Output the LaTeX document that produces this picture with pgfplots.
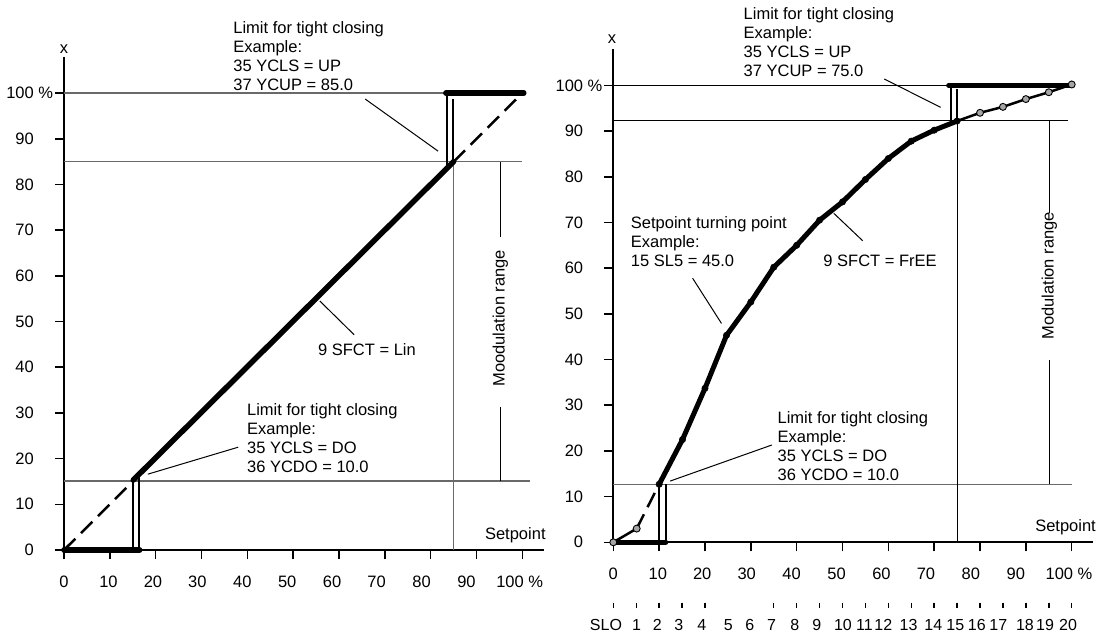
\documentclass[border=0pt]{standalone}
\usepackage{fontspec}
\setmainfont{Liberation Sans}
\usepackage{pgfplots}
\pgfplotsset{compat=1.18}
\newcommand\myfont{\fontsize{16.5bp}{19bp}\selectfont}
\newcommand\slofont{\fontsize{16bp}{19bp}\selectfont}
\definecolor{refgray}{RGB}{105,105,105}
\definecolor{markgray}{RGB}{165,165,165}
\tikzset{
 thinl/.style={black, line width=1bp},
 refl/.style={refgray, line width=1.3bp},
 thickl/.style={black, line width=5.5bp, line cap=round},
 dbl/.style={black, line width=2bp},
 dsh/.style={black, line width=2.5bp, dash pattern=on 16bp off 8bp},
 txt/.style={font=\myfont, inner sep=0pt, align=left},
 slo/.style={font=\slofont, inner sep=0pt},
}
\pgfplotsset{
 myaxis/.style={
  scale only axis, width=479.5bp, height=493bp,
  xmin=0, xmax=104.6, ymin=0, ymax=107.9,
  axis lines=left, axis line style={-, line width=2bp, black},
  tick align=outside, major tick length=9bp,
  tick style={black, line width=1.5bp},
  xtick={0,10,...,100}, xticklabels={},
  extra x ticks={0,9.7,19.4,29.1,38.9,48.7,58.5,68.2,78,87.8,99.4},
  extra x tick labels={0,10,20,30,40,50,60,70,80,90,100 \%},
  extra x tick style={major tick length=0pt, tick style={draw=none},
     xticklabel style={anchor=base, inner sep=0pt, yshift=-37bp}},
  ytick={0,10,...,100},
  yticklabels={0,10,20,30,40,50,60,70,80,90,100\rlap{ \%}},
  yticklabel style={anchor=east, inner sep=0pt, xshift=-21bp},
  tick label style={font=\myfont},
  clip=false,
 },
}
\begin{document}
\begin{tikzpicture}
\useasboundingbox (0,0) rectangle (1106bp,634bp);
% ---------------- left chart ----------------
\begin{axis}[myaxis, at={(64bp,84bp)}, anchor=south west]
\addplot[refl] coordinates {(0,100) (100,100)};
\addplot[refl] coordinates {(0,85) (100,85)};
\addplot[refl] coordinates {(0,15.1) (101.7,15.1)};
\addplot[refl] coordinates {(84.9,0) (84.9,85)};
\addplot[thinl] coordinates {(95.2,84.9) (95.2,68.5)};
\addplot[thinl] coordinates {(95.2,31.3) (95.2,15.1)};
\addplot[dsh] coordinates {(0,0) (15.2,15.2)};
\addplot[dsh] coordinates {(85,85) (100,100)};
\addplot[thickl] coordinates {(15.1,15.3) (85,85)};
\addplot[thickl] coordinates {(0,0) (16.5,0)};
\addplot[thickl] coordinates {(83.3,100) (100.3,100)};
\addplot[dbl] coordinates {(15.1,0) (15.1,15.5)};
\addplot[dbl] coordinates {(16.4,0) (16.4,16.2)};
\addplot[dbl] coordinates {(83.5,84) (83.5,100)};
\addplot[dbl] coordinates {(84.9,85) (84.9,98.6)};
\draw[thinl] (65.7,98.7) -- (81.6,87.3);
\draw[thinl] (55.8,54.5) -- (63.3,47.1);
\draw[thinl] (38.0,22.5) -- (18.3,16.6);
\node[txt, anchor=north west] at (36.9,115.8) {Limit for tight closing\\Example:\\35 YCLS = UP\\37 YCUP = 85.0};
\node[txt, anchor=north west] at (55.4,45.2) {9 SFCT = Lin};
\node[txt, anchor=north west] at (39.9,32.1) {Limit for tight closing\\Example:\\35 YCLS = DO\\36 YCDO = 10.0};
\node[txt, anchor=base east] at (105.1,2.3) {Setpoint};
\node[txt, anchor=base] at (0,108.6) {x};
\node[txt, rotate=90, anchor=center] at (95.2,50.7) {Moodulation range};
\end{axis}
% ---------------- right chart ----------------
\begin{axis}[myaxis, at={(613.3bp,91.7bp)}, anchor=south west]
\addplot[thinl, line width=1.2bp] coordinates {(0,100) (75,100)};
\addplot[thinl, line width=1.2bp] coordinates {(0,92.3) (99.2,92.3)};
\addplot[refl] coordinates {(0,12.7) (100,12.7)};
\addplot[thinl, line width=1.2bp] coordinates {(75,0) (75,92.3)};
\addplot[thinl] coordinates {(95.1,92.3) (95.1,72.0)};
\addplot[thinl] coordinates {(95.1,39.9) (95.1,12.7)};
\addplot[black, line width=2.5bp] coordinates {(0,0) (5.1,3.0)};
\addplot[dsh] coordinates {(5.1,3.0) (10,12.7)};
\addplot[black, line width=2.5bp] coordinates {(75,92.2) (80,94) (85,95.3) (90,97) (95,98.5) (100,100.2)};
\addplot[thickl] coordinates {(0,0) (11.4,0)};
\addplot[thickl] coordinates {(73.2,100) (100,100)};
\addplot[dbl] coordinates {(10,0) (10,12.7)};
\addplot[dbl] coordinates {(11.4,0) (11.4,12.7)};
\addplot[dbl] coordinates {(73.7,92.2) (73.7,100)};
\addplot[dbl] coordinates {(75,92.2) (75,99.3)};
\addplot[black, line width=5bp, line join=round, mark=*, mark size=3.2bp,
  mark options={solid, fill=black, line width=0.5bp}] coordinates {
  (10,12.7) (15.1,22.5) (20,33.7) (24.7,45.3) (30,52.6) (35,60.2) (40,65)
  (45,70.5) (50,74.5) (55,79.4) (60,84) (65,87.8) (70,90.2) (75,92.2)};
\addplot[only marks, mark=*, mark size=3.5bp,
  mark options={fill=markgray, draw=black, line width=0.9bp}] coordinates {
  (0,0) (5.1,3.0) (80,94) (85,95.3) (90,97) (95,98.5) (100,100.2)};
\draw[thinl] (59.1,101.4) -- (71.4,95.2);
\draw[thinl] (17.3,57.8) -- (23.6,47.9);
\draw[thinl] (48.1,72.0) -- (54.4,66.0);
\draw[thinl] (34.6,21.3) -- (12.4,13.4);
\node[txt, anchor=north west] at (28.4,117.0) {Limit for tight closing\\Example:\\35 YCLS = UP\\37 YCUP = 75.0};
\node[txt, anchor=north west] at (3.8,71.3) {Setpoint turning point\\Example:\\15 SL5 = 45.0};
\node[txt, anchor=north west] at (45.8,62.9) {9 SFCT = FrEE};
\node[txt, anchor=north west] at (35.8,28.6) {Limit for tight closing\\Example:\\35 YCLS = DO\\36 YCDO = 10.0};
\node[txt, anchor=base east] at (105.3,2.3) {Setpoint};
\node[txt, anchor=base] at (-0.3,109.2) {x};
\node[txt, rotate=90, anchor=center] at (95.1,58.3) {Modulation range};
\pgfplotsinvokeforeach{0,5,10,15,20,35,40,45,50,55,60,65,70,75,80,85,90,95,100}{
  \draw[black, line width=1.4bp] (#1,-13.2) -- (#1,-14.4);
}
\node[slo] at (-1.6,-18.1) {SLO};
\node[slo] at (5.1,-18.1) {1};
\node[slo] at (9.6,-18.1) {2};
\node[slo] at (14.3,-18.1) {3};
\node[slo] at (19.3,-18.1) {4};
\node[slo] at (25.1,-18.1) {5};
\node[slo] at (29.8,-18.1) {6};
\node[slo] at (34.5,-18.1) {7};
\node[slo] at (39.6,-18.1) {8};
\node[slo] at (44.4,-18.1) {9};
\node[slo] at (50.1,-18.1) {10};
\node[slo] at (54.8,-18.1) {11};
\node[slo] at (58.9,-18.1) {12};
\node[slo] at (64.4,-18.1) {13};
\node[slo] at (69.8,-18.1) {14};
\node[slo] at (74.6,-18.1) {15};
\node[slo] at (79.3,-18.1) {16};
\node[slo] at (84.0,-18.1) {17};
\node[slo] at (89.8,-18.1) {18};
\node[slo] at (94.2,-18.1) {19};
\node[slo] at (99.2,-18.1) {20};
\end{axis}
\end{tikzpicture}
\end{document}
